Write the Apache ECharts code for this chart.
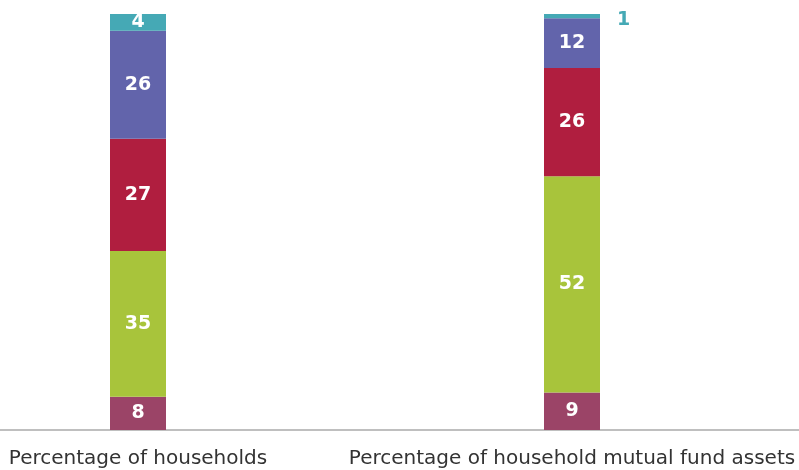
<!DOCTYPE html>
<html><head><meta charset="utf-8">
<script src="https://cdn.jsdelivr.net/npm/echarts@6/dist/echarts.min.js"></script>
<style>html,body{margin:0;padding:0;background:#fff}#c{width:799px;height:470px}</style>
</head><body><div id="c"></div>
<script>
const categories = ['Percentage of households', 'Percentage of household mutual fund assets'];
const seg1 = [8, 9];
const seg2 = [35, 52];
const seg3 = [27, 26];
const seg4 = [26, 12];
const seg5 = [4, 1];
const colors = ['#9b4467', '#a8c43b', '#b01e3f', '#6264ab', '#45a9b5'];

const chart = echarts.init(document.getElementById('c'), null, {renderer: 'canvas'});
const lbl = {show: true, position: 'inside', color: '#fff', fontFamily: 'DejaVu Sans', fontWeight: 'bold', fontSize: 19};
function mk(data, i) {
  return {type: 'bar', stack: 'a', barWidth: 56, xAxisIndex: 0, yAxisIndex: 0,
    itemStyle: {color: colors[i]}, label: lbl, data: data};
}
const s5data = seg5.map((v, k) => k === 1 ? {value: v, label: {position: 'right', distance: 17, offset: [0, 4], color: colors[4]}} : v);
chart.setOption({
  animation: false,
  grid: [
    {left: -79, right: 10, top: 14, bottom: 40, outerBoundsMode: 'none', containLabel: false},
    {left: 0, right: 0, top: 14, bottom: 40, outerBoundsMode: 'none', containLabel: false}
  ],
  xAxis: [
    {type: 'category', gridIndex: 0, data: categories,
      axisLine: {show: false}, axisTick: {show: false},
      axisLabel: {interval: 0, hideOverlap: false, color: '#333', fontFamily: 'DejaVu Sans', fontSize: 20, margin: 19}},
    {type: 'value', gridIndex: 1, min: 0, max: 1,
      axisLine: {show: true, lineStyle: {color: '#aaa', width: 1.5}},
      axisTick: {show: false}, axisLabel: {show: false}, splitLine: {show: false}}
  ],
  yAxis: [
    {type: 'value', gridIndex: 0, min: 0, max: 100, show: false},
    {type: 'value', gridIndex: 1, min: 0, max: 100, show: false}
  ],
  series: [
    mk(seg1, 0), mk(seg2, 1), mk(seg3, 2), mk(seg4, 3), mk(s5data, 4)
  ]
});
</script></body></html>
